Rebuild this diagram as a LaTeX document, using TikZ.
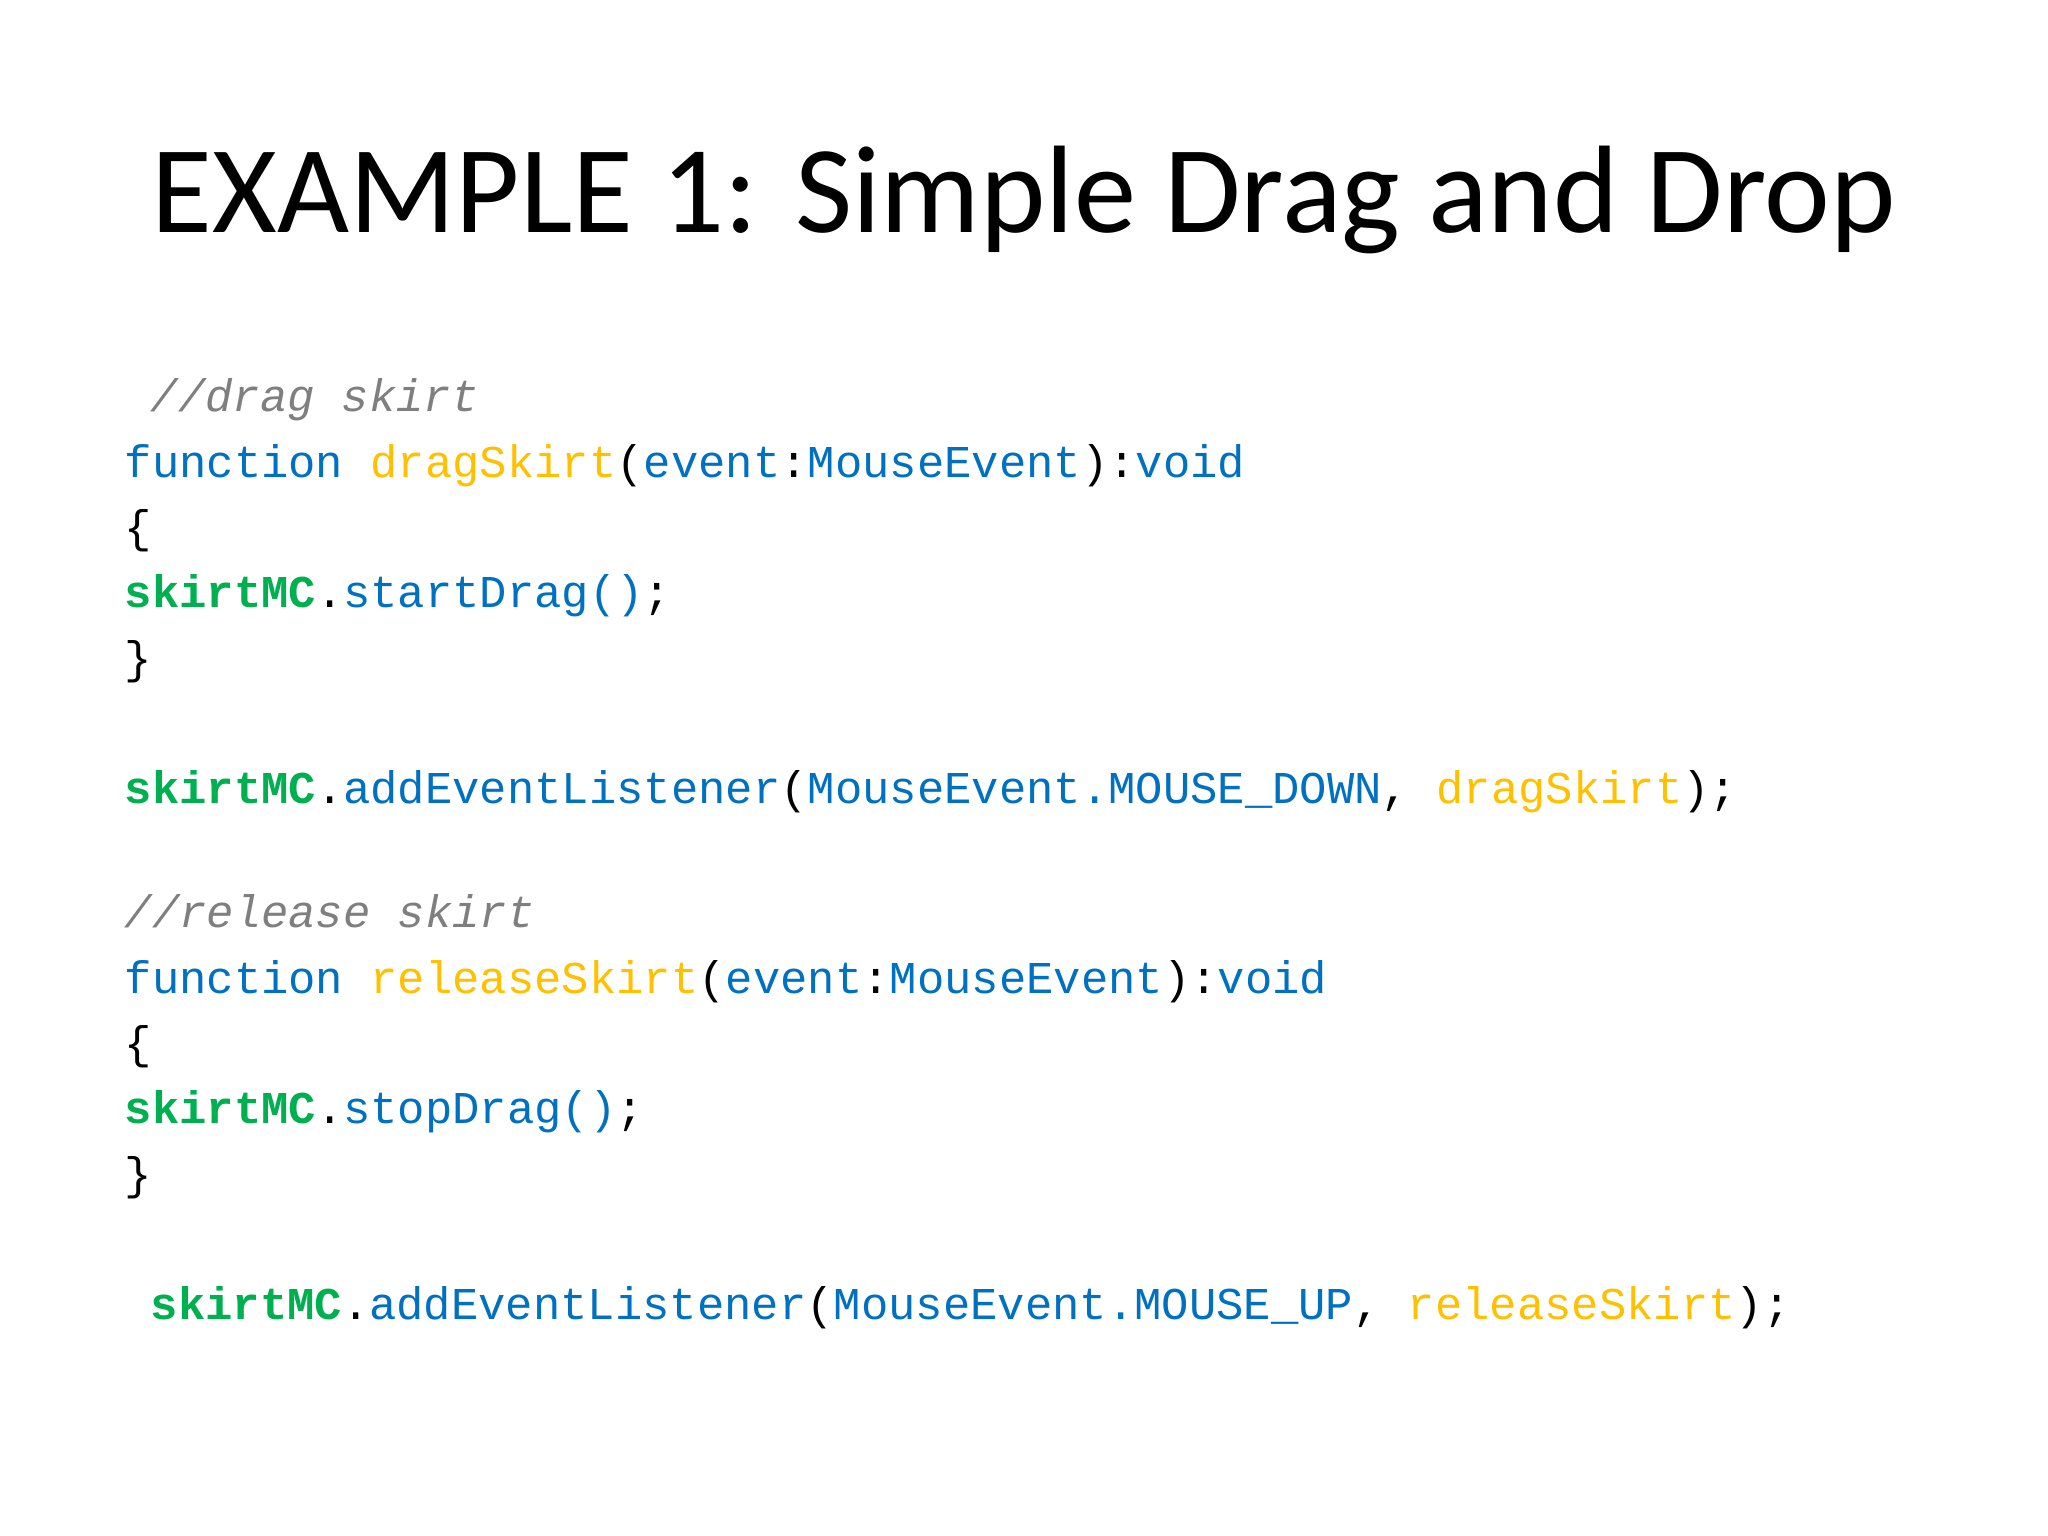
\documentclass[tikz,border=0pt]{standalone}
\usepackage{fontspec}
\setmainfont{Carlito}
\setmonofont{Liberation Mono}
\definecolor{kb}{HTML}{0070C0}
\definecolor{ko}{HTML}{FFC000}
\definecolor{kg}{HTML}{00B050}
\definecolor{kc}{HTML}{7F7F7F}
\begin{document}
\begin{tikzpicture}[x=0.01cm,y=-0.01cm,
  code/.style={anchor=base west,inner sep=0pt,font=\ttfamily\fontsize{12.95}{14}\selectfont},
  title/.style={anchor=base,inner sep=0pt,font=\fontsize{35.4}{42}\selectfont}]
\useasboundingbox (0,0) rectangle (2048,1536);
\node[title] (t) at (1024,232) {EXAMPLE 1: Simple Drag and Drop};
\node[code] (c1) at (150,411) {\color{kc}\itshape //drag skirt};
\node[code] (l1) at (124,477) {\color{kb}function \color{ko}dragSkirt\color{black}(\color{kb}event\color{black}:\color{kb}MouseEvent\color{black}):\color{kb}void};
\node[code] (l2) at (124,542) {\{};
\node[code] (l3) at (124,607) {\color{kg}\bfseries skirtMC\color{black}\mdseries.\color{kb}startDrag()\color{black};};
\node[code] (l4) at (124,673) {\}};
\node[code] (l5) at (124,803) {\color{kg}\bfseries skirtMC\color{black}\mdseries.\color{kb}addEventListener\color{black}(\color{kb}MouseEvent.MOUSE\_DOWN\color{black}, \color{ko}dragSkirt\color{black});};
\node[code] (c2) at (124,927) {\color{kc}\itshape //release skirt};
\node[code] (l6) at (124,993) {\color{kb}function \color{ko}releaseSkirt\color{black}(\color{kb}event\color{black}:\color{kb}MouseEvent\color{black}):\color{kb}void};
\node[code] (l7) at (124,1058) {\{};
\node[code] (l8) at (124,1123) {\color{kg}\bfseries skirtMC\color{black}\mdseries.\color{kb}stopDrag()\color{black};};
\node[code] (l9) at (124,1189) {\}};
\node[code] (l10) at (150,1319) {\color{kg}\bfseries skirtMC\color{black}\mdseries.\color{kb}addEventListener\color{black}(\color{kb}MouseEvent.MOUSE\_UP\color{black}, \color{ko}releaseSkirt\color{black});};
\end{tikzpicture}
\end{document}
